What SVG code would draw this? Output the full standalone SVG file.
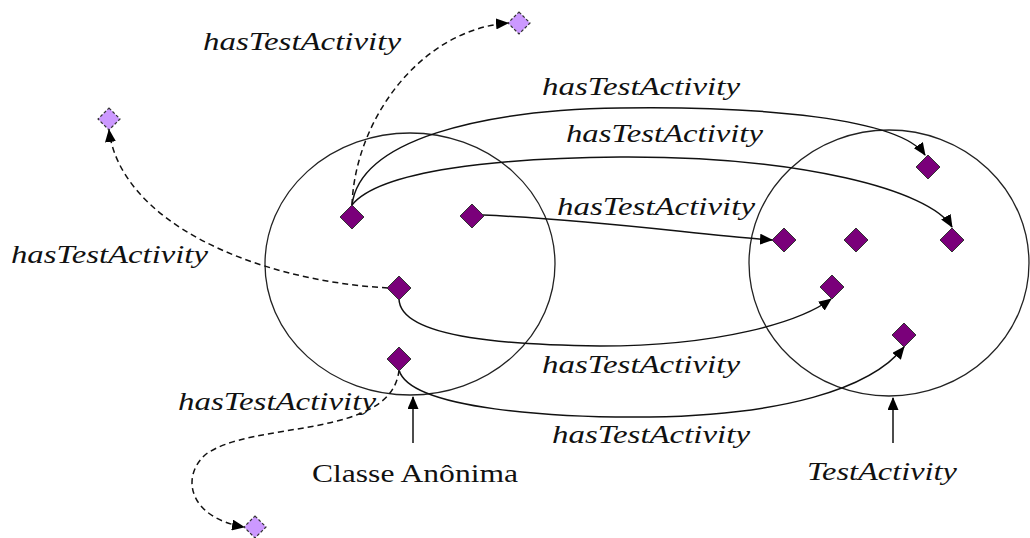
<svg xmlns="http://www.w3.org/2000/svg" width="1030" height="538" viewBox="0 0 1030 538">
<style>
.bg{fill:#fff}
.set{fill:none;stroke:#222;stroke-width:1.3}
.ind{fill:#7a007a;stroke:#333;stroke-width:1}
.anon{fill:#cc99ff;stroke:#333;stroke-width:1.2;stroke-dasharray:3 2}
.edge{fill:none;stroke:#111;stroke-width:1.5;marker-end:url(#ah)}
.dash{stroke-dasharray:6 4}
.lbl{font-family:"Liberation Serif",serif;font-style:italic;font-size:26px;fill:#111}
.cls{font-family:"Liberation Serif",serif;font-size:26px;fill:#111}
</style>
<defs>
<marker id="ah" viewBox="0 0 13 11" refX="12" refY="5.5" markerWidth="13" markerHeight="11" markerUnits="userSpaceOnUse" orient="auto">
<path d="M0,0 L13,5.5 L0,11 Z" fill="#000"/>
</marker>
</defs>
<rect class="bg" x="0" y="0" width="1030" height="538"/>
<g id="set-anon"><ellipse class="set" cx="410" cy="264" rx="145" ry="131"/></g>
<g id="set-testactivity"><ellipse class="set" cx="889" cy="263" rx="140" ry="133"/></g>
<g id="connectors">
<path class="edge dash" d="M352,205 C355,120 420,30 508,23"/>
<path class="edge dash" d="M388,288 C250,280 120,220 109,130"/>
<path class="edge dash" d="M399,370 C392,440 250,420 205,455 C180,478 190,518 244,527"/>
<path class="edge" d="M352,205 C360,140 480,110 620,108 C760,106 900,118 925,155"/>
<path class="edge" d="M352,205 C380,170 500,158 620,157 C800,156 930,190 952,227"/>
<path class="edge" d="M483,215 C600,220 700,235 772,240"/>
<path class="edge" d="M399,299 C400,340 520,345 600,346 C720,346 800,322 831,299"/>
<path class="edge" d="M399,370 C410,410 560,418 650,417 C780,415 870,390 904,347"/>
<path class="edge" d="M413,443 L413,397"/>
<path class="edge" d="M893,443 L893,398"/>
</g>
<g id="d1"><path class="ind" d="M352,205 L364,217 L352,229 L340,217 Z"/></g>
<g id="d2"><path class="ind" d="M472,204 L484,216 L472,228 L460,216 Z"/></g>
<g id="d3"><path class="ind" d="M399,276 L411,288 L399,300 L387,288 Z"/></g>
<g id="d4"><path class="ind" d="M399,347 L411,359 L399,371 L387,359 Z"/></g>
<g id="r1"><path class="ind" d="M928,155 L940,167 L928,179 L916,167 Z"/></g>
<g id="r2"><path class="ind" d="M784,228 L796,240 L784,252 L772,240 Z"/></g>
<g id="r3"><path class="ind" d="M856,228 L868,240 L856,252 L844,240 Z"/></g>
<g id="r4"><path class="ind" d="M952,228 L964,240 L952,252 L940,240 Z"/></g>
<g id="r5"><path class="ind" d="M832,275 L844,287 L832,299 L820,287 Z"/></g>
<g id="r6"><path class="ind" d="M904,323 L916,335 L904,347 L892,335 Z"/></g>
<g id="a1"><path class="anon" d="M519,12 L530,23 L519,34 L508,23 Z"/></g>
<g id="a2"><path class="anon" d="M109,108 L120,119 L109,130 L98,119 Z"/></g>
<g id="a3"><path class="anon" d="M255,516 L266,527 L255,538 L244,527 Z"/></g>
<g id="labels">
<text class="lbl" x="203" y="50" textLength="198" lengthAdjust="spacingAndGlyphs">hasTestActivity</text>
<text class="lbl" x="542" y="95" textLength="198" lengthAdjust="spacingAndGlyphs">hasTestActivity</text>
<text class="lbl" x="566" y="142" textLength="197" lengthAdjust="spacingAndGlyphs">hasTestActivity</text>
<text class="lbl" x="557" y="215" textLength="198" lengthAdjust="spacingAndGlyphs">hasTestActivity</text>
<text class="lbl" x="11" y="263" textLength="197" lengthAdjust="spacingAndGlyphs">hasTestActivity</text>
<text class="lbl" x="542" y="373" textLength="198" lengthAdjust="spacingAndGlyphs">hasTestActivity</text>
<text class="lbl" x="552" y="443" textLength="198" lengthAdjust="spacingAndGlyphs">hasTestActivity</text>
<text class="lbl" x="178" y="410" textLength="198" lengthAdjust="spacingAndGlyphs">hasTestActivity</text>
<text class="cls" x="312" y="482" textLength="206" lengthAdjust="spacingAndGlyphs">Classe Anônima</text>
<text class="lbl" x="807" y="480" textLength="150" lengthAdjust="spacingAndGlyphs">TestActivity</text>
</g>
</svg>
